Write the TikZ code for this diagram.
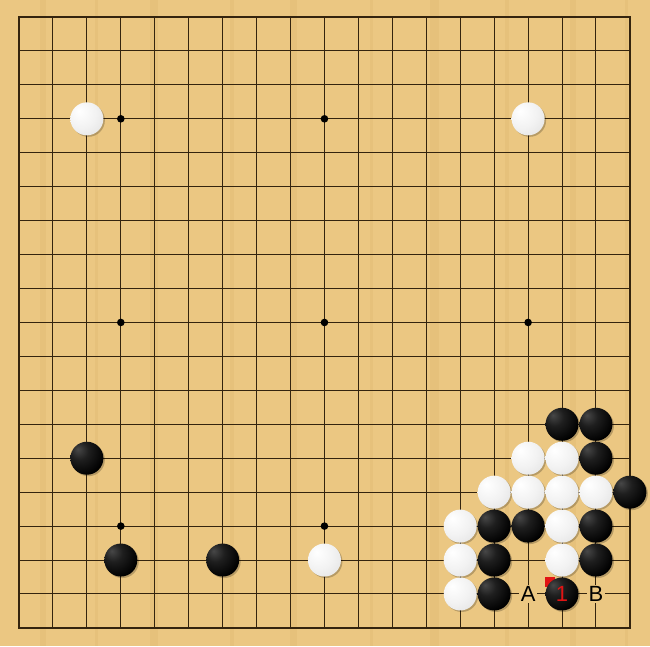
\documentclass[tikz,border=0pt]{standalone}
\usepackage{fontspec}
\setmainfont{Liberation Sans}
\definecolor{wood}{RGB}{235,199,130}
\definecolor{grain}{RGB}{222,182,110}
\definecolor{gridline}{RGB}{52,36,14}
\definecolor{markred}{RGB}{225,20,20}
\pgfdeclareradialshading{blackstone}{\pgfpoint{-14bp}{14bp}}{color(0bp)=(black!72); color(14bp)=(black!88); color(34bp)=(black); color(80bp)=(black)}
\pgfdeclareradialshading{whitestone}{\pgfpoint{-12bp}{12bp}}{color(0bp)=(white); color(22bp)=(white!95!black); color(44bp)=(black!12); color(60bp)=(black!28); color(80bp)=(black!32)}
\def \gridStep {33.94pt}
\def \stoneSize {16.5pt}
\def \starSize {3.8pt}
\tikzset{
  shadow/.style={fill=black, opacity=0.22},
  blackstone/.style={shading=blackstone},
  whitestone/.style={shading=whitestone},
  boardlabel/.style={fill=wood, inner sep=1.5pt, font=\fontsize{22}{22}\selectfont}
}
\begin{document}
\begin{tikzpicture}[x=1pt,y=-1pt]
  \useasboundingbox (0,0) rectangle (650,646);
  \fill[wood] (0,0) rectangle (650,646);
  % wood grain
  \foreach \g/\w in {40/6, 95/3, 150/8, 230/4, 290/7, 370/3, 430/9, 505/4, 570/6, 625/3}
    \fill[grain, opacity=0.35] (\g,0) rectangle (\g+\w,646);
  \begin{scope}[shift={(19,17)}, x=\gridStep, y=-\gridStep]
    % grid
    \foreach \i in {0,...,18} {
      \draw[gridline, line width=1pt] (\i,0) -- (\i,18);
      \draw[gridline, line width=1pt] (0,\i) -- (18,\i);
    }
    \draw[gridline, line width=1.6pt] (0,0) rectangle (18,18);
    \foreach \x in {3,9,15}
      \foreach \y in {3,9,15}
        \fill[black] (\x,\y) circle (\starSize);
    % last move mark
    \fill[markred] ([xshift=-17pt,yshift=17pt]16,17) rectangle ([xshift=-7pt,yshift=7pt]16,17);
    % stones
    \foreach \c/\r in {2/13, 3/16, 6/16, 16/12, 17/12, 17/13, 18/14, 14/15, 15/15, 17/15, 14/16, 17/16, 14/17, 16/17} {
      \fill[shadow] ([xshift=1.5pt,yshift=-1.5pt]\c,\r) circle (\stoneSize);
      \shade[blackstone] (\c,\r) circle (\stoneSize);
    }
    \foreach \c/\r in {2/3, 15/3, 9/16, 15/13, 16/13, 14/14, 15/14, 16/14, 17/14, 13/15, 16/15, 13/16, 16/16, 13/17} {
      \fill[shadow] ([xshift=1.5pt,yshift=-1.5pt]\c,\r) circle (\stoneSize);
      \shade[whitestone] (\c,\r) circle (\stoneSize);
    }
    % labels
    \node[boardlabel] (markA) at (15,17) {A};
    \node[boardlabel] (markB) at (17,17) {B};
    \node[font=\fontsize{22}{22}\selectfont, text=markred, inner sep=0pt] (moveOne) at (16,17) {1};
  \end{scope}
\end{tikzpicture}
\end{document}
